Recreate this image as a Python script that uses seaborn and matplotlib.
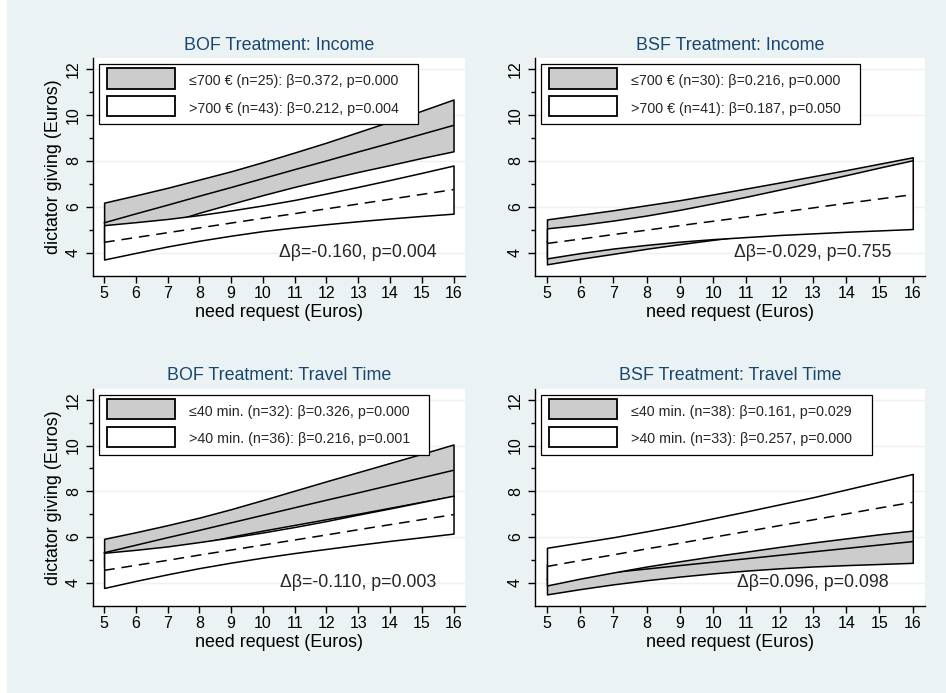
import matplotlib
matplotlib.use("Agg")
import matplotlib.pyplot as plt
from matplotlib.legend_handler import HandlerPatch
from matplotlib.patches import Patch, Rectangle
import seaborn as sns

# need request (Euros) on the x axis
need = [5, 6, 7, 8, 9, 10, 11, 12, 13, 14, 15, 16]

# BOF treatment, income split (low = <=700, high = >700)
boi_low_fit = [5.30, 5.69, 6.07, 6.46, 6.84, 7.23, 7.62, 8.00, 8.39, 8.77, 9.16, 9.55]
boi_low_lo = [4.42, 4.88, 5.31, 5.74, 6.13, 6.51, 6.87, 7.20, 7.52, 7.82, 8.13, 8.42]
boi_low_hi = [6.18, 6.50, 6.83, 7.19, 7.55, 7.95, 8.37, 8.80, 9.26, 9.72, 10.19, 10.68]
boi_high_fit = [4.45, 4.66, 4.87, 5.08, 5.29, 5.50, 5.70, 5.91, 6.12, 6.33, 6.54, 6.75]
boi_high_lo = [3.70, 3.99, 4.27, 4.52, 4.74, 4.94, 5.10, 5.24, 5.37, 5.49, 5.60, 5.70]
boi_high_hi = [5.20, 5.33, 5.47, 5.64, 5.84, 6.06, 6.30, 6.58, 6.87, 7.17, 7.48, 7.80]

# BSF treatment, income split
bsi_low_fit = [4.47, 4.69, 4.90, 5.12, 5.33, 5.55, 5.77, 5.98, 6.20, 6.41, 6.63, 6.85]
bsi_low_lo = [3.49, 3.73, 3.95, 4.17, 4.37, 4.56, 4.74, 4.90, 5.07, 5.22, 5.38, 5.54]
bsi_low_hi = [5.45, 5.65, 5.85, 6.07, 6.29, 6.54, 6.80, 7.06, 7.33, 7.60, 7.88, 8.16]
bsi_high_fit = [4.40, 4.59, 4.79, 4.98, 5.18, 5.37, 5.56, 5.76, 5.95, 6.15, 6.34, 6.53]
bsi_high_lo = [3.75, 3.98, 4.18, 4.34, 4.48, 4.59, 4.68, 4.77, 4.84, 4.91, 4.97, 5.03]
bsi_high_hi = [5.06, 5.21, 5.40, 5.62, 5.87, 6.15, 6.44, 6.75, 7.06, 7.38, 7.71, 8.03]

# BOF treatment, travel time split (low = <=40 min, high = >40 min)
bot_low_fit = [5.31, 5.64, 5.97, 6.29, 6.62, 6.95, 7.28, 7.61, 7.93, 8.26, 8.59, 8.92]
bot_low_lo = [4.70, 5.07, 5.42, 5.73, 6.02, 6.28, 6.53, 6.78, 7.02, 7.28, 7.54, 7.79]
bot_low_hi = [5.92, 6.21, 6.52, 6.85, 7.22, 7.62, 8.03, 8.44, 8.84, 9.24, 9.64, 10.05]
bot_high_fit = [4.54, 4.76, 4.98, 5.21, 5.43, 5.65, 5.87, 6.09, 6.32, 6.54, 6.76, 6.98]
bot_high_lo = [3.77, 4.08, 4.37, 4.64, 4.88, 5.10, 5.30, 5.48, 5.66, 5.83, 5.99, 6.15]
bot_high_hi = [5.31, 5.44, 5.59, 5.78, 5.98, 6.20, 6.44, 6.70, 6.98, 7.25, 7.53, 7.81]

# BSF treatment, travel time split
bst_low_fit = [4.15, 4.30, 4.45, 4.60, 4.75, 4.90, 5.05, 5.20, 5.35, 5.50, 5.65, 5.80]
bst_low_lo = [3.49, 3.72, 3.93, 4.11, 4.27, 4.41, 4.53, 4.63, 4.71, 4.77, 4.82, 4.87]
bst_low_hi = [4.81, 4.88, 4.97, 5.09, 5.23, 5.39, 5.57, 5.77, 5.99, 6.23, 6.48, 6.73]
bst_high_fit = [4.71, 4.97, 5.22, 5.48, 5.73, 5.99, 6.24, 6.50, 6.75, 7.01, 7.27, 7.52]
bst_high_lo = [3.88, 4.18, 4.45, 4.71, 4.94, 5.16, 5.36, 5.57, 5.76, 5.94, 6.12, 6.28]
bst_high_hi = [5.53, 5.76, 5.99, 6.25, 6.52, 6.82, 7.12, 7.43, 7.74, 8.08, 8.42, 8.76]

titles = ["BOF Treatment: Income", "BSF Treatment: Income",
          "BOF Treatment: Travel Time", "BSF Treatment: Travel Time"]
legend_labels = [
    ["≤700 € (n=25): β=0.372, p=0.000", ">700 € (n=43): β=0.212, p=0.004"],
    ["≤700 € (n=30): β=0.216, p=0.000", ">700 € (n=41): β=0.187, p=0.050"],
    ["≤40 min. (n=32): β=0.326, p=0.000", ">40 min. (n=36): β=0.216, p=0.001"],
    ["≤40 min. (n=38): β=0.161, p=0.029", ">40 min. (n=33): β=0.257, p=0.000"],
]
diff_labels = ["Δβ=-0.160, p=0.004", "Δβ=-0.029, p=0.755",
               "Δβ=-0.110, p=0.003", "Δβ=0.096, p=0.098"]

BG = "#EAF2F3"
TITLE_COLOR = "#1A476F"
GRAY = "#CCCCCC"
LW = 1.1


def full_box(legend, orig_handle, xdescent, ydescent, width, height, fontsize):
    # legend key filling the whole handle box, like Stata's area keys
    return Rectangle((-xdescent, -ydescent), width, height + ydescent)


sns.set_theme(style="white")
plt.rcParams["font.family"] = ["Liberation Sans", "DejaVu Sans"]

fig = plt.figure(figsize=(9.46, 6.93), dpi=100, facecolor=BG)
fig.patches.append(Rectangle((0, 0), 7 / 946, 1, transform=fig.transFigure,
                             facecolor="white", edgecolor="none", zorder=-1))

positions = [
    [0.0983, 0.6017, 0.3932, 0.3146],
    [0.5659, 0.6017, 0.4116, 0.3146],
    [0.0983, 0.1255, 0.3932, 0.3136],
    [0.5659, 0.1255, 0.4116, 0.3136],
]
groups = [
    ((boi_low_lo, boi_low_fit, boi_low_hi), (boi_high_lo, boi_high_fit, boi_high_hi)),
    ((bsi_low_lo, bsi_low_fit, bsi_low_hi), (bsi_high_lo, bsi_high_fit, bsi_high_hi)),
    ((bot_low_lo, bot_low_fit, bot_low_hi), (bot_high_lo, bot_high_fit, bot_high_hi)),
    ((bst_low_lo, bst_low_fit, bst_low_hi), (bst_high_lo, bst_high_fit, bst_high_hi)),
]
legend_boxes = [(0.016, 0.858), (0.015, 0.820), (0.016, 0.887), (0.015, 0.849)]

for i in range(4):
    ax = fig.add_axes(positions[i])
    ax.set_facecolor("white")
    ax.grid(axis="y", which="major", color=BG, lw=1)
    ax.set_axisbelow(True)

    (lo, fit, hi), (lo2, fit2, hi2) = groups[i]
    ax.fill_between(need, lo, hi, facecolor=GRAY, edgecolor="black", lw=LW, zorder=2)
    sns.lineplot(x=need, y=fit, color="black", lw=LW, ax=ax, zorder=2.1)
    ax.fill_between(need, lo2, hi2, facecolor="white", edgecolor="black", lw=LW, zorder=2.2)
    sns.lineplot(x=need, y=fit2, color="black", lw=LW, linestyle=(0, (7, 4.5)),
                 ax=ax, zorder=2.3)

    ax.text(13, 4, diff_labels[i], ha="center", va="center", fontsize=12.8, zorder=4)

    ax.set_xlim(4.65, 16.36)
    ax.set_ylim(2.98, 12.49)
    ax.set_xticks(need)
    ax.set_yticks([4, 6, 8, 10, 12])
    ax.set_yticks([5, 7, 9, 11], minor=True)
    for side in ["top", "right"]:
        ax.spines[side].set_visible(False)
    for side in ["left", "bottom"]:
        ax.spines[side].set_color("black")
        ax.spines[side].set_linewidth(1)
    ax.tick_params(axis="both", which="major", direction="out", length=4.8, width=1,
                   color="black", labelsize=11.5, labelcolor="black",
                   bottom=True, left=True)
    ax.tick_params(axis="x", pad=2.5)
    ax.tick_params(axis="y", pad=4, labelrotation=90)
    ax.tick_params(axis="y", which="minor", direction="out", length=3, width=1,
                   color="black", left=True)
    for lab in ax.get_yticklabels():
        lab.set_va("center")

    ax.set_title(titles[i], color=TITLE_COLOR, fontsize=12.9, pad=6)
    ax.set_xlabel("need request (Euros)", fontsize=12.9, labelpad=2, color="black")
    if i % 2 == 0:
        ax.set_ylabel("dictator giving (Euros)", fontsize=12.9, labelpad=3, color="black")
    else:
        ax.set_ylabel("")

    handles = [Patch(facecolor=GRAY, edgecolor="black", lw=1.3),
               Patch(facecolor="white", edgecolor="black", lw=1.3)]
    x0, w = legend_boxes[i]
    leg = ax.legend(handles, legend_labels[i], loc="upper left",
                    bbox_to_anchor=(x0, 0.3, w, 0.672), mode="expand",
                    borderaxespad=0, fontsize=10.3, handlelength=4.75,
                    handleheight=1.42, handletextpad=0.98, borderpad=0.54,
                    labelspacing=0.78, frameon=True, fancybox=False,
                    edgecolor="black", framealpha=1,
                    handler_map={Patch: HandlerPatch(patch_func=full_box)})
    leg.get_frame().set_linewidth(0.9)
    leg.set_zorder(5)

fig.savefig("out.png", dpi=100, facecolor=BG)
